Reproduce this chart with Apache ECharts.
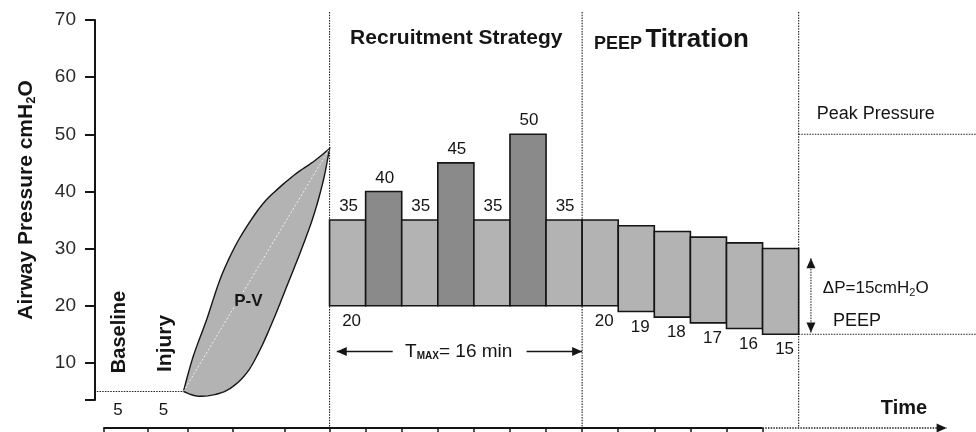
<!DOCTYPE html>
<html><head><meta charset="utf-8">
<script src="https://cdn.jsdelivr.net/npm/echarts@6.0.0/dist/echarts.min.js"></script>
<style>html,body{margin:0;padding:0;background:#fff}#c{width:976px;height:432px}</style>
</head><body><div id="c"></div>
<script>
// ---------- data ----------
const yTickLabels = [10, 20, 30, 40, 50, 60, 70];
const phasePeep = [5, 5];                         // Baseline, Injury PEEP
const phaseNames = ['Baseline', 'Injury'];
const recruitPeak = [35, 40, 35, 45, 35, 50, 35];
const recruitPeep = [20, 20, 20, 20, 20, 20, 20];
const recruitTopLabels = ['35', '40', '35', '45', '35', '50', '35'];
const recruitBottomLabels = ['20', '', '', '', '', '', ''];
const titrationPeep = [20, 19, 18, 17, 16, 15];
const titrationPeak = [35, 34, 33, 32, 31, 30];
const titrationBottomLabels = ['20', '19', '18', '17', '16', '15'];
const timelineTicks = [-6.27, -5.05, -3.93, -2.67, -1.24, 0, 1, 2, 3, 4, 5, 6, 7, 8, 9, 10, 11, 12];
// P-V loop (time position, pressure)
const pvUpper = [[-4.05, 5], [-3.78, 11.1], [-3.41, 17.5], [-3.04, 24.5], [-2.67, 29.75], [-2.30, 33.8],
  [-1.84, 37.9], [-1.37, 40.8], [-0.91, 43.2], [-0.45, 45.2], [0, 47.5]];
const pvLower = [[0, 47.5], [-0.17, 42.0], [-0.45, 35.6], [-0.82, 29.2], [-1.19, 23.3], [-1.56, 17.5],
  [-1.93, 12.25], [-2.30, 8.2], [-2.76, 5.5], [-3.22, 4.4], [-3.68, 4.2], [-4.05, 5]];
const peakPressure = 50;
const peepLevel = 15;
const deltaP = 15;
const tMaxMin = 16;

// ---------- style ----------
const FONT = '"Liberation Sans", Arial, sans-serif';
const INK = '#151515';
const LIGHT = '#b3b3b3';
const DARK = '#8a8a8a';
const GUIDE = '#222';
const X_MIN = -6.5, X_MAX = 17, Y_MIN = 3.5, Y_MAX = 70;
const Y_TOP_EXT = 71.4, Y_TIME = -1.4, X_RIGHT_EXT = 17.95;

// ---------- build rows ----------
const barRows = [];
recruitPeak.forEach((p, i) => barRows.push([i, i + 1, recruitPeep[i], p, i % 2, recruitTopLabels[i], recruitBottomLabels[i]]));
const nR = recruitPeak.length;
titrationPeep.forEach((p, i) => barRows.push([nR + i, nR + i + 1, p, titrationPeak[i], 0, '', titrationBottomLabels[i]]));
const nT = titrationPeep.length;
const endX = nR + nT;

const DOT = [1.5, 1.2];
const segs = [
  // phase dividers
  {x1: 0, y1: Y_TOP_EXT, x2: 0, y2: Y_TIME, c: GUIDE, w: 1.1, d: DOT},
  {x1: nR, y1: Y_TOP_EXT, x2: nR, y2: Y_TIME, c: GUIDE, w: 1.1, d: DOT},
  {x1: endX, y1: Y_TOP_EXT, x2: endX, y2: Y_TIME, c: GUIDE, w: 1.1, d: DOT},
  // baseline PEEP
  {x1: X_MIN + 0.05, y1: phasePeep[0], x2: -4.05, y2: phasePeep[1], c: GUIDE, w: 1.1, d: DOT},
  // legend levels
  {x1: endX, y1: peakPressure, x2: X_RIGHT_EXT, y2: peakPressure, c: GUIDE, w: 1.1, d: DOT},
  {x1: endX, y1: peepLevel, x2: X_RIGHT_EXT, y2: peepLevel, c: GUIDE, w: 1.1, d: DOT},
  // time line
  {x1: timelineTicks[0], y1: Y_TIME, x2: 12, y2: Y_TIME, c: INK, w: 2, d: null},
  {x1: 12, y1: Y_TIME, x2: 17.1, y2: Y_TIME, c: GUIDE, w: 1.5, d: DOT, head: true},
  // delta P arrow
  {x1: 13.34, y1: peepLevel + 0.3, x2: 13.34, y2: peepLevel + deltaP - 1.7, c: INK, w: 1, d: DOT, head: true, head2: true},
  // T max arrows
  {x1: 1.75, y1: 12, x2: 0.2, y2: 12, c: INK, w: 1.5, d: null, head: true},
  {x1: 5.46, y1: 12, x2: nR, y2: 12, c: INK, w: 1.5, d: null, head: true}
];

const notes = [
  {x: 0.57, y: 66.85, t: 'Recruitment Strategy', s: 21, b: true, a: 'left'},
  {x: 7.33, y: 66.5, t: '{p|PEEP} {q|Titration}', a: 'left',
    rich: {p: {fontSize: 18, fontWeight: 'bold', fontFamily: FONT, fill: INK, verticalAlign: 'bottom'}, q: {fontSize: 26, fontWeight: 'bold', fontFamily: FONT, fill: INK, verticalAlign: 'bottom'}}},
  {x: 15.92, y: 2.1, t: 'Time', s: 20, b: true, a: 'center'},
  {x: 13.5, y: 53.5, t: 'Peak Pressure', s: 18, a: 'left'},
  {x: 13.67, y: 23, t: '{m|ΔP=15cmH}{s|2}{m|O}', a: 'left',
    rich: {m: {fontSize: 17, fontFamily: FONT, fill: INK}, s: {fontSize: 11, fontFamily: FONT, fill: INK, padding: [9, 0, 0, 0]}}},
  {x: 13.95, y: 17.3, t: 'PEEP', s: 18, a: 'left'},
  {x: -2.25, y: 20.7, t: 'P-V', s: 17, b: true, a: 'center'},
  {x: -5.81, y: 8.2, t: phaseNames[0], s: 20, b: true, a: 'left', rot: true},
  {x: -4.56, y: 8.4, t: phaseNames[1], s: 21, b: true, a: 'left', rot: true},
  {x: -5.86, y: 1.75, t: String(phasePeep[0]), s: 17, a: 'center'},
  {x: -4.6, y: 1.75, t: String(phasePeep[1]), s: 17, a: 'center'},
  {x: 3.58, y: 12, t: '{m|T}{s|MAX}{m|= ' + tMaxMin + ' min}', a: 'center',
    rich: {m: {fontSize: 19, fontFamily: FONT, fill: INK}, s: {fontSize: 10, fontWeight: 'bold', fontFamily: FONT, fill: INK, padding: [9, 0, 0, 0]}}}
];

function tri(tip, from, len, half, color) {
  const dx = tip[0] - from[0], dy = tip[1] - from[1];
  const L = Math.hypot(dx, dy) || 1, ux = dx / L, uy = dy / L;
  const bx = tip[0] - ux * len, by = tip[1] - uy * len;
  return {type: 'polygon', shape: {points: [tip, [bx - uy * half, by + ux * half], [bx + uy * half, by - ux * half]]}, style: {fill: color}};
}
// Catmull-Rom spline through pixel points (rendering only)
function spline(pts, seg) {
  const out = [pts[0]], n = pts.length;
  for (let i = 0; i < n - 1; i++) {
    const p0 = pts[Math.max(i - 1, 0)], p1 = pts[i], p2 = pts[i + 1], p3 = pts[Math.min(i + 2, n - 1)];
    for (let k = 1; k <= seg; k++) {
      const t = k / seg, t2 = t * t, t3 = t2 * t;
      const f = j => 0.5 * (2 * p1[j] + (-p0[j] + p2[j]) * t + (2 * p0[j] - 5 * p1[j] + 4 * p2[j] - p3[j]) * t2 + (-p0[j] + 3 * p1[j] - 3 * p2[j] + p3[j]) * t3);
      out.push([f(0), f(1)]);
    }
  }
  return out;
}

const chart = echarts.init(document.getElementById('c'));
chart.setOption({
  animation: false,
  backgroundColor: '#fff',
  grid: {left: 95, right: 33, top: 20, bottom: 32, containLabel: false, outerBoundsMode: 'none'},
  xAxis: {
    type: 'value', min: X_MIN, max: X_MAX, offset: 28,
    axisLine: {show: false, onZero: false}, splitLine: {show: false}, axisLabel: {show: false},
    axisTick: {show: true, customValues: timelineTicks, length: 8, lineStyle: {color: INK, width: 1.5}}
  },
  yAxis: {
    type: 'value', min: Y_MIN, max: Y_MAX,
    axisLine: {show: true, onZero: false, lineStyle: {color: INK, width: 2}},
    axisTick: {show: true, customValues: [Y_MIN].concat(yTickLabels), length: 10, lineStyle: {color: INK, width: 2}},
    axisLabel: {customValues: yTickLabels, fontSize: 19, color: '#2a2a2a', fontFamily: FONT, margin: 19},
    splitLine: {show: false},
    name: '{a|Airway Pressure cmH}{s|2}{a|O}', nameLocation: 'middle', nameGap: 57, nameRotate: 90,
    nameTextStyle: {padding: [0, 0, 0, 20], rich: {
      a: {fontSize: 21, fontWeight: 'bold', fontFamily: FONT, color: INK},
      s: {fontSize: 13, fontWeight: 'bold', fontFamily: FONT, color: INK, padding: [10, 0, 0, 0]}
    }}
  },
  series: [
    { // P-V loop
      type: 'custom', z: 2,
      data: pvUpper.concat(pvLower.slice(1)),
      encode: {x: 0, y: 1},
      renderItem: function (params, api) {
        if (params.dataIndex !== 0) return null;
        const up = spline(pvUpper.map(p => api.coord(p)), 6);
        const lo = spline(pvLower.map(p => api.coord(p)), 6);
        const pts = up.concat(lo.slice(1, lo.length - 1));
        const a = api.coord(pvUpper[0]), b = api.coord(pvUpper[pvUpper.length - 1]);
        return {type: 'group', children: [
          {type: 'polygon', shape: {points: pts}, style: {fill: LIGHT, stroke: INK, lineWidth: 1.4}},
          {type: 'line', shape: {x1: a[0], y1: a[1], x2: b[0], y2: b[1]}, style: {stroke: '#f2f2f2', lineWidth: 1, lineDash: [2, 2]}}
        ]};
      }
    },
    { // decorative segments
      type: 'custom', z: 3,
      data: segs.map(s => [s.x1, s.y1, s.x2, s.y2]),
      encode: {x: [0, 2], y: [1, 3]},
      renderItem: function (params, api) {
        const s = segs[params.dataIndex];
        const a = api.coord([s.x1, s.y1]), b = api.coord([s.x2, s.y2]);
        const ch = [{type: 'line', shape: {x1: a[0], y1: a[1], x2: b[0], y2: b[1]}, style: {stroke: s.c, lineWidth: s.w, lineDash: s.d || null}}];
        if (s.head) ch.push(tri(b, a, 10, 4.5, INK));
        if (s.head2) ch.push(tri(a, b, 10, 4.5, INK));
        return {type: 'group', children: ch};
      }
    },
    { // pressure steps
      type: 'custom', z: 4,
      data: barRows.map(r => [r[0], r[1], r[2], r[3]]),
      encode: {x: [0, 1], y: [2, 3]},
      renderItem: function (params, api) {
        const r = barRows[params.dataIndex];
        const tl = api.coord([api.value(0), api.value(3)]);
        const br = api.coord([api.value(1), api.value(2)]);
        const cx = (tl[0] + br[0]) / 2;
        const ch = [{type: 'rect', shape: {x: tl[0], y: tl[1], width: br[0] - tl[0], height: br[1] - tl[1]},
          style: {fill: r[4] ? DARK : LIGHT, stroke: INK, lineWidth: 1.6}}];
        if (r[5]) ch.push({type: 'text', x: cx + 1, y: tl[1] - 5, style: {text: r[5], align: 'center', verticalAlign: 'bottom', fontSize: 17, fontFamily: FONT, fill: INK}});
        if (r[6]) ch.push({type: 'text', x: cx + 4, y: br[1] + 7, style: {text: r[6], align: 'center', verticalAlign: 'top', fontSize: 17, fontFamily: FONT, fill: INK}});
        return {type: 'group', children: ch};
      }
    },
    { // text notes
      type: 'custom', z: 5,
      data: notes.map(n => [n.x, n.y]),
      encode: {x: 0, y: 1},
      renderItem: function (params, api) {
        const n = notes[params.dataIndex];
        const p = api.coord([n.x, n.y]);
        const st = {text: n.t, align: n.a, verticalAlign: 'middle', fill: INK, fontFamily: FONT};
        if (n.rich) st.rich = n.rich; else { st.fontSize = n.s; st.fontWeight = n.b ? 'bold' : 'normal'; }
        return {type: 'text', x: p[0], y: p[1], rotation: n.rot ? Math.PI / 2 : 0, style: st};
      }
    }
  ]
});
</script>
</body></html>
